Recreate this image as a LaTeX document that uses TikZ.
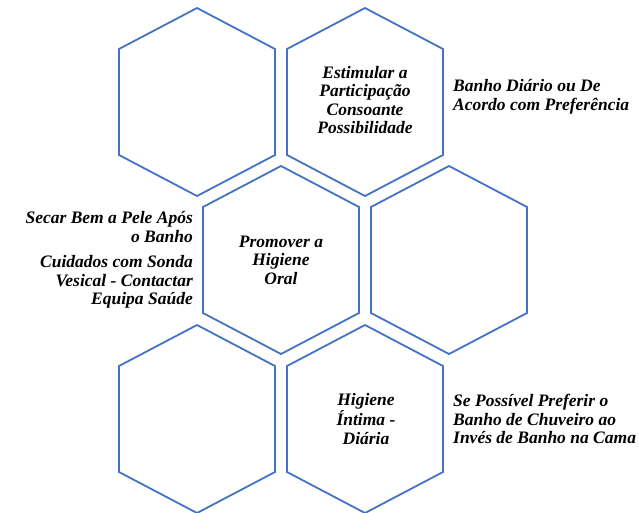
\documentclass[tikz,border=0pt]{standalone}
\usepackage{fontspec}
\setmainfont{Liberation Serif}
\usepackage{xcolor}
\usepackage{tikz}
\usetikzlibrary{calc,positioning}

\definecolor{hexblue}{RGB}{68,114,196}

% one cell of the honeycomb, centred at (#1,#2)
\newcommand{\hexcell}[2]{%
  \draw[hexline] (#1-78,#2-53) -- (#1,#2-94) -- (#1+78,#2-53)
    -- (#1+78,#2+53) -- (#1,#2+94) -- (#1-78,#2+53) -- cycle;}

\tikzset{
  hexline/.style={draw=hexblue, line width=1.8pt, line join=miter},
  celltext/.style={align=center, font=\fontsize{17.5}{18.5}\selectfont\bfseries\itshape},
  sidetext/.style={font=\fontsize{17.5}{18.5}\selectfont\bfseries\itshape, inner sep=0pt}
}

\begin{document}
\begin{tikzpicture}[x=1pt, y=-1pt]
		
		\useasboundingbox (0,0) rectangle (639,512);
		
		% =========================================================
		% Honeycomb cells
		% =========================================================
		\hexcell{197}{102}
		\hexcell{365}{102}
		\hexcell{281}{260}
		\hexcell{449}{260}
		\hexcell{197}{419}
		\hexcell{365}{419}
		
		% =========================================================
		% Text inside the cells
		% =========================================================
		\node[celltext] (estimular) at (365,100)
		{Estimular a\\Participação\\Consoante\\Possibilidade};
		\node[celltext] (oral) at (281,260) {Promover a\\Higiene\\Oral};
		\node[celltext] (intima) at (366,419) {Higiene\\Íntima -\\Diária};
		
		% =========================================================
		% Notes beside the cells
		% =========================================================
		\node[sidetext, align=left, anchor=west] (diario) at (453,97)
		{Banho Diário ou De\\Acordo com Preferência};
		\node[sidetext, align=right, anchor=east] (secar) at (193,227)
		{Secar Bem a Pele Após\\o Banho};
		\node[sidetext, align=right, anchor=east] (sonda) at (193,282)
		{Cuidados com Sonda\\Vesical - Contactar\\Equipa Saúde};
		\node[sidetext, align=left, anchor=west] (chuveiro) at (453,419)
		{Se Possível Preferir o\\Banho de Chuveiro ao\\Invés de Banho na Cama};
		
	\end{tikzpicture}
\end{document}
